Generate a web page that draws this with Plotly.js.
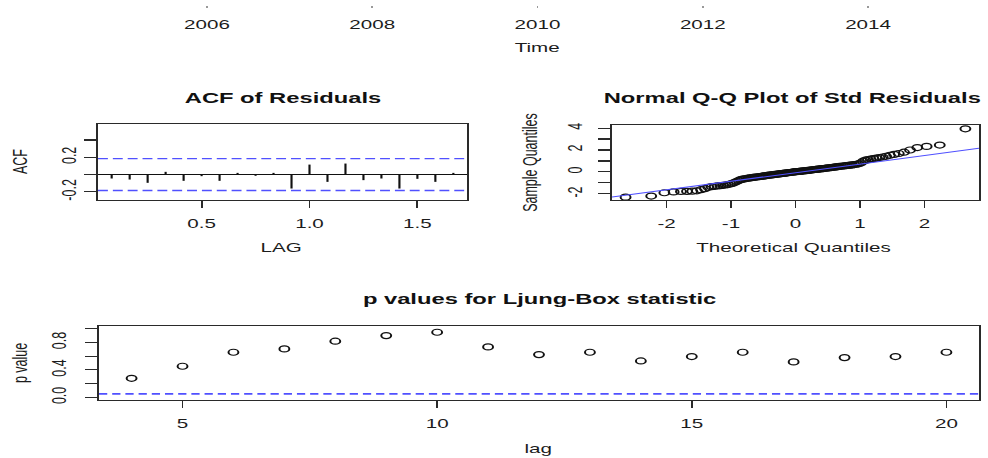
<!DOCTYPE html>
<html>
<head>
<meta charset="utf-8">
<script src="https://cdn.plot.ly/plotly-3.0.1.min.js"></script>
<style>
html,body{margin:0;padding:0;background:#fff;overflow:hidden;width:988px;height:458px}
#wrap{width:599px;height:458px;transform:scaleX(1.649416);transform-origin:0 0}
#chart{width:599px;height:458px}
</style>
</head>
<body>
<div id="wrap"><div id="chart"></div></div>
<script>
// ---------- data ----------
const timeTicks = [2006, 2008, 2010, 2012, 2014];

const acfLag = [0.0833,0.1667,0.25,0.3333,0.4167,0.5,0.5833,0.6667,0.75,0.8333,
                0.9167,1.0,1.0833,1.1667,1.25,1.3333,1.4167,1.5,1.5833,1.6667];
const acfVal = [-0.046,-0.058,-0.096,0.031,-0.073,-0.019,-0.073,0.019,-0.015,0.019,
                -0.162,0.115,-0.085,0.127,-0.065,-0.046,-0.162,-0.05,-0.085,0.019];
const acfBound = 0.185;

const qqTheo = [-2.636,-2.238,-2.034,-1.890,-1.777,-1.683,-1.602,-1.530,-1.465,-1.406,
  -1.352,-1.301,-1.253,-1.208,-1.166,-1.125,-1.086,-1.049,-1.013,-0.979,
  -0.945,-0.913,-0.881,-0.851,-0.821,-0.792,-0.763,-0.736,-0.708,-0.681,
  -0.655,-0.629,-0.604,-0.579,-0.554,-0.530,-0.505,-0.482,-0.458,-0.435,
  -0.411,-0.389,-0.366,-0.344,-0.321,-0.299,-0.277,-0.256,-0.234,-0.212,
  -0.191,-0.170,-0.148,-0.127,-0.106,-0.084,-0.063,-0.042,-0.021,0,
  0.021,0.042,0.063,0.084,0.106,0.127,0.148,0.170,0.191,0.212,
  0.234,0.256,0.277,0.299,0.321,0.344,0.366,0.389,0.411,0.435,
  0.458,0.482,0.505,0.530,0.554,0.579,0.604,0.629,0.655,0.681,
  0.708,0.736,0.763,0.792,0.821,0.851,0.881,0.913,0.945,0.979,
  1.013,1.049,1.086,1.125,1.166,1.208,1.253,1.301,1.352,1.406,
  1.465,1.530,1.602,1.683,1.777,1.890,2.034,2.238,2.636];
const qqSample = [-2.30,-2.20,-1.90,-1.82,-1.78,-1.77,-1.75,-1.72,-1.62,-1.52,
  -1.40,-1.34,-1.31,-1.28,-1.25,-1.22,-1.19,-1.15,-1.10,-1.04,
  -0.96,-0.88,-0.78,-0.70,-0.66,-0.63,-0.60,-0.57,-0.55,-0.53,
  -0.50,-0.48,-0.46,-0.44,-0.42,-0.40,-0.38,-0.36,-0.34,-0.32,
  -0.30,-0.28,-0.27,-0.25,-0.23,-0.21,-0.20,-0.18,-0.16,-0.15,
  -0.13,-0.11,-0.10,-0.08,-0.06,-0.05,-0.03,-0.02,0.00,0.02,
  0.03,0.04,0.05,0.07,0.08,0.10,0.11,0.12,0.14,0.15,
  0.17,0.19,0.20,0.22,0.23,0.25,0.26,0.28,0.30,0.31,
  0.33,0.35,0.37,0.38,0.40,0.42,0.44,0.46,0.48,0.50,
  0.52,0.54,0.56,0.58,0.60,0.62,0.64,0.67,0.70,0.74,
  0.82,0.98,1.07,1.12,1.16,1.21,1.26,1.31,1.36,1.43,
  1.52,1.60,1.68,1.80,2.00,2.22,2.33,2.45,3.93];
const qqIntercept = -0.07;
const qqSlope = 0.78;

const lbLag = [4,5,6,7,8,9,10,11,12,13,14,15,16,17,18,19,20];
const lbP = [0.277,0.453,0.657,0.706,0.818,0.900,0.949,0.735,0.623,0.657,
             0.530,0.594,0.657,0.516,0.579,0.594,0.657];
const lbLevel = 0.05;

// ---------- styling ----------
const FONT = 'Liberation Sans, Arial, Helvetica, sans-serif';
const INK = '#1c1c1c';
const BLUE = 'rgb(80,80,255)';

const qqXRange = [-2.847, 2.847];

function boxAxis(o) {
  return Object.assign({
    showline: true, mirror: true, linecolor: '#2a2a2a', linewidth: 1.2,
    showgrid: false, zeroline: false,
    ticks: 'outside', ticklen: 7, tickwidth: 1.1, tickcolor: '#2a2a2a',
    tickfont: {family: FONT, size: 12.5, color: INK},
    fixedrange: true
  }, o);
}

// ACF spikes built from the data
const spX = [], spY = [];
acfLag.forEach((l, i) => { spX.push(l, l, null); spY.push(0, acfVal[i], null); });

const traces = [
  {type: 'scatter', mode: 'lines', x: spX, y: spY, xaxis: 'x', yaxis: 'y',
   line: {color: '#111', width: 1.3}, hoverinfo: 'skip'},
  {type: 'scatter', mode: 'markers', x: qqTheo, y: qqSample, xaxis: 'x2', yaxis: 'y2',
   marker: {symbol: 'circle-open', size: 6, color: '#111', line: {width: 1.2, color: '#111'}}},
  {type: 'scatter', mode: 'markers', x: lbLag, y: lbP, xaxis: 'x3', yaxis: 'y3',
   marker: {symbol: 'circle-open', size: 6, color: '#111', line: {width: 1.2, color: '#111'}}},
  {type: 'scatter', mode: 'markers', x: [timeTicks[0]], y: [0], xaxis: 'x4', yaxis: 'y4',
   marker: {opacity: 0}, hoverinfo: 'skip'}
];

const shapes = [
  {type: 'line', xref: 'x domain', yref: 'y', x0: 0, x1: 1, y0: 0, y1: 0,
   line: {color: '#111', width: 1.1}},
  {type: 'line', xref: 'x domain', yref: 'y', x0: 0, x1: 1, y0: acfBound, y1: acfBound,
   line: {color: BLUE, width: 1.3, dash: '6px,3px'}},
  {type: 'line', xref: 'x domain', yref: 'y', x0: 0, x1: 1, y0: -acfBound, y1: -acfBound,
   line: {color: BLUE, width: 1.3, dash: '6px,3px'}},
  {type: 'line', xref: 'x2', yref: 'y2',
   x0: qqXRange[0], x1: qqXRange[1],
   y0: qqIntercept + qqSlope * qqXRange[0], y1: qqIntercept + qqSlope * qqXRange[1],
   line: {color: BLUE, width: 1}},
  {type: 'line', xref: 'x3 domain', yref: 'y3', x0: 0, x1: 1, y0: lbLevel, y1: lbLevel,
   line: {color: BLUE, width: 1.8, dash: '5px,3px'}}
];

function ann(text, x, y, opts) {
  return Object.assign({text: text, x: x, y: y, xref: 'paper', yref: 'paper',
    xanchor: 'center', yanchor: 'middle', showarrow: false,
    font: {family: FONT, size: 12.5, color: INK}}, opts || {});
}
const titleFont = {family: FONT, size: 14.4, color: '#111', weight: 'bold'};

const annotations = [
  ann('<b>ACF of Residuals</b>', 0.2859, 0.7850, {font: titleFont}),
  ann('<b>Normal Q-Q Plot of Std Residuals</b>', 0.8026, 0.7870, {font: titleFont}),
  ann('<b>p values for Ljung-Box statistic</b>', 0.5455, 0.347, {font: titleFont}),
  ann('Time', 0.5435, 0.8952),
  ann('LAG', 0.2854, 0.4579),
  ann('Theoretical Quantiles', 0.803, 0.4579),
  ann('lag', 0.5455, 0.0197),
  ann('ACF', 0.0202, 0.6463, {textangle: -90}),
  ann('Sample Quantiles', 0.5364, 0.645, {textangle: -90}),
  ann('p value', 0.0202, 0.2074, {textangle: -90})
];

const layout = {
  width: 599, height: 458, autosize: false,
  margin: {l: 0, r: 0, t: 0, b: 0, pad: 0},
  paper_bgcolor: '#fff', plot_bgcolor: '#fff',
  showlegend: false,
  font: {family: FONT, size: 12.5, color: INK},
  xaxis: boxAxis({domain: [0.0992, 0.4727], range: [0.02, 1.73], anchor: 'y',
    tickmode: 'array', tickvals: [0.5, 1.0, 1.5], ticktext: ['0.5', '1.0', '1.5'],
    ticklabelstandoff: 5}),
  yaxis: boxAxis({domain: [0.5633, 0.7293], range: [-0.295, 0.585], anchor: 'x',
    tickmode: 'array', tickvals: [-0.2, 0, 0.2, 0.4], ticktext: ['-0.2', '', '0.2', ''],
    tickangle: -90, ticklabelstandoff: 0}),
  xaxis2: boxAxis({domain: [0.6194, 0.9909], range: qqXRange, anchor: 'y2',
    tickmode: 'array', tickvals: [-2, -1, 0, 1, 2], ticktext: ['-2', '-1', '0', '1', '2'],
    ticklabelstandoff: 5}),
  yaxis2: boxAxis({domain: [0.5633, 0.7271], range: [-2.56, 4.28], anchor: 'x2',
    tickmode: 'array', tickvals: [-2, -1, 0, 1, 2, 3, 4], ticktext: ['-2', '', '0', '', '2', '', '4'],
    tickangle: -90, ticklabelstandoff: 5}),
  xaxis3: boxAxis({domain: [0.1002, 0.9909], range: [3.36, 20.64], anchor: 'y3',
    tickmode: 'array', tickvals: [5, 10, 15, 20], ticktext: ['5', '10', '15', '20'],
    ticklabelstandoff: 5}),
  yaxis3: boxAxis({domain: [0.1266, 0.2882], range: [-0.04, 1.04], anchor: 'x3',
    tickmode: 'array', tickvals: [0, 0.2, 0.4, 0.6, 0.8, 1.0], ticktext: ['0.0', '', '0.4', '', '0.8', ''],
    tickangle: -90, ticklabelstandoff: 7}),
  xaxis4: {domain: [0.1002, 0.9909], range: [2004.693, 2015.343], anchor: 'y4',
    showline: false, showgrid: false, zeroline: false,
    ticks: 'outside', ticklen: 2, tickwidth: 1, tickcolor: '#999',
    tickmode: 'array', tickvals: timeTicks, ticktext: timeTicks.map(String),
    tickfont: {family: FONT, size: 12.5, color: INK}, ticklabelstandoff: 6, fixedrange: true},
  yaxis4: {domain: [1 - 5 / 458, 1], range: [0, 1], anchor: 'x4', visible: false, fixedrange: true},
  shapes: shapes,
  annotations: annotations
};

Plotly.newPlot('chart', traces, layout, {staticPlot: true, displayModeBar: false});
</script>
</body>
</html>
